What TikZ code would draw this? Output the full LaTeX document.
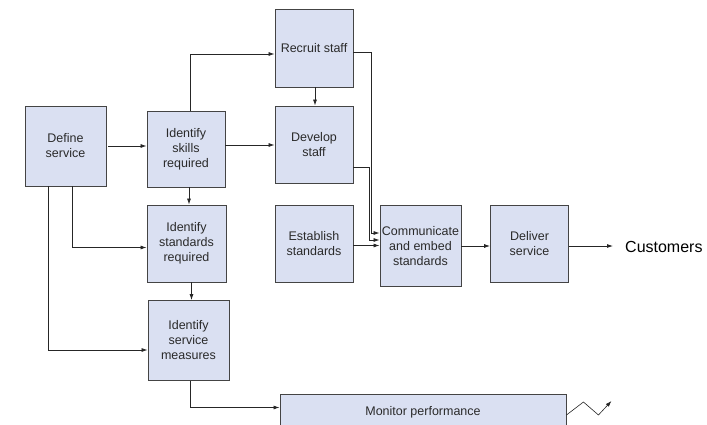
\documentclass[tikz,border=0pt]{standalone}
\usepackage{fontspec}
\setmainfont{Liberation Sans}
\usepackage{tikz}
\usetikzlibrary{positioning,calc,arrows.meta}
\definecolor{boxc}{HTML}{DAE0F2}
\definecolor{edgec}{HTML}{444444}
\definecolor{txtc}{HTML}{2A2A2A}

\begin{document}
\begin{tikzpicture}[x=1pt, y=-1pt,
  stage/.style={draw=edgec, line width=0.9pt, fill=boxc, align=center, inner sep=1pt,
    text=txtc, font=\fontsize{12.5}{15}\selectfont},
  arr/.style={draw=black!85, line width=0.75pt, -{Latex[length=6pt,width=4pt]}}]
  \useasboundingbox (0,0) rectangle (707,424);
  \clip (0,0) rectangle (707,424);
  \node[stage, minimum width=81pt, minimum height=80pt] (define) at (65.5,146) {Define\\service};
  \node[stage, minimum width=78pt, minimum height=76pt] (skills) at (186,149) {Identify\\skills\\required};
  \node[stage, minimum width=78pt, minimum height=78pt] (recruit) at (314,48) {Recruit staff};
  \node[stage, minimum width=78pt, minimum height=77pt] (develop) at (314,144.5) {Develop\\staff};
  \node[stage, minimum width=79pt, minimum height=77pt] (standards) at (186.5,243.5) {Identify\\standards\\required};
  \node[stage, minimum width=78pt, minimum height=77pt] (establish) at (314,243.5) {Establish\\standards};
  \node[stage, minimum width=81pt, minimum height=81pt] (communicate) at (420.5,246) {Communicate\\and embed\\standards};
  \node[stage, minimum width=78pt, minimum height=77pt] (deliver) at (529.5,244) {Deliver\\service};
  \node[stage, minimum width=81pt, minimum height=80pt] (measures) at (188.5,340.5) {Identify\\service\\measures};
  \node[stage, minimum width=286pt, minimum height=36pt] (monitor) at (423,412) {Monitor performance};
  \node[anchor=west, text=black, font=\fontsize{16}{19}\selectfont, inner sep=0pt] (customers) at (625,247) {Customers};

  \draw[arr] ([xshift=2pt]define.east) -- (define.east -| skills.west);
  \draw[arr] (skills.east |- 0,145) -- (develop.west |- 0,145);
  \draw[arr] ([xshift=4pt]skills.north) |- ([yshift=-6pt]recruit.west);
  \draw[arr] ([xshift=1pt]recruit.south) -- ([xshift=1pt]develop.north);
  \draw[arr] ([xshift=3pt]skills.south) -- ([xshift=3pt]skills.south |- standards.north);
  \draw[arr] ([xshift=7pt]define.south) |- ([yshift=-4pt]standards.west);
  \draw[arr] ([xshift=-17pt]define.south) |- ([yshift=-9.5pt]measures.west);
  \draw[arr] ([xshift=5pt]standards.south) -- ([xshift=5pt]standards.south |- measures.north);
  \draw[arr] ([xshift=2pt]measures.south) |- ([yshift=4.5pt]monitor.west);
  \draw[arr] ([yshift=-2pt]establish.east) -- ([yshift=-2pt]establish.east -| communicate.west);
  \draw[arr] ([yshift=-4pt]recruit.east) -| ([xshift=-8pt,yshift=13pt]communicate.west) -- ([yshift=13pt]communicate.west);
  \draw[arr] ([yshift=-23pt]develop.east) -| ([xshift=-10pt,yshift=6pt]communicate.west) -- ([yshift=6pt]communicate.west);
  \draw[arr] (communicate.east) -- (communicate.east -| deliver.west);
  \draw[arr] (deliver.east |- communicate.east) -- ([xshift=-12pt]customers.west |- communicate.east);
  \draw[arr, line width=0.6pt] ([yshift=-3pt]monitor.east) -- ++(17,-13) -- ++(15,13) -- ++(13,-14);
\end{tikzpicture}
\end{document}
